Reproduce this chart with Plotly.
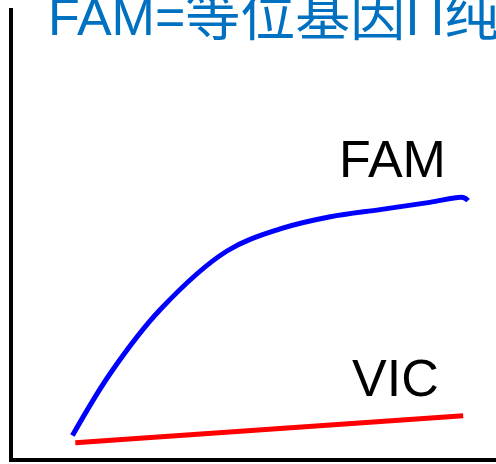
import plotly.graph_objects as go

# Amplification curves (relative cycle %, relative fluorescence %)
fam_x = [12.3, 20.2, 30.5, 44.3, 55.3, 65.7, 76.0, 86.3, 93.2, 94.2]
fam_y = [5.0, 18.9, 33.0, 46.0, 50.9, 53.6, 55.2, 56.8, 57.9, 57.2]
vic_x = [12.9, 93.2]
vic_y = [3.4, 9.4]

title_text = ('FAM=<span style="font-size:55px">等位基因</span>I\u2009I'
              '<span style="font-size:55px">纯合子</span>')
series_labels = ["FAM", "VIC"]
label_pos = [(78.6, 66.4), (79.1, 17.8)]

W, H = 496, 464
L, R, T, B = 12.5, 0, 8, 5.5

fig = go.Figure()
fig.add_trace(go.Scatter(x=fam_x, y=fam_y, mode="lines",
                         line=dict(color="#0000FF", width=5, shape="spline", smoothing=1.0),
                         showlegend=False, hoverinfo="skip"))
fig.add_trace(go.Scatter(x=vic_x, y=vic_y, mode="lines",
                         line=dict(color="#FF0000", width=5),
                         showlegend=False, hoverinfo="skip"))

font_fam = "Liberation Sans, Arial, Noto Sans CJK SC, sans-serif"
for txt, (lx, ly) in zip(series_labels, label_pos):
    fig.add_annotation(x=lx, y=ly, xref="x", yref="y", text=txt, showarrow=False,
                       xanchor="center", yanchor="middle",
                       font=dict(family=font_fam, size=52, color="#000000"))

fig.add_annotation(x=(46 - L) / (W - L - R), y=1 - (16.5 - T) / (H - T - B),
                   xref="paper", yref="paper", text=title_text, showarrow=False,
                   xanchor="left", yanchor="middle",
                   font=dict(family="Liberation Sans, Noto Sans CJK SC, sans-serif", size=52, color="#0070C0"))

axis_common = dict(showgrid=False, zeroline=False, showticklabels=False, ticks="",
                   showline=True, linecolor="#000000", linewidth=4, mirror=False)
fig.update_layout(
    width=W, height=H,
    margin=dict(l=L, r=R, t=T, b=B, pad=0),
    paper_bgcolor="white", plot_bgcolor="white",
    xaxis=dict(range=[0, 100], **axis_common),
    yaxis=dict(range=[0, 100], **axis_common),
    showlegend=False,
)

fig.write_html("out.html", config={"displayModeBar": False},
               post_script="document.body.style.margin='0';document.body.style.padding='0';")
